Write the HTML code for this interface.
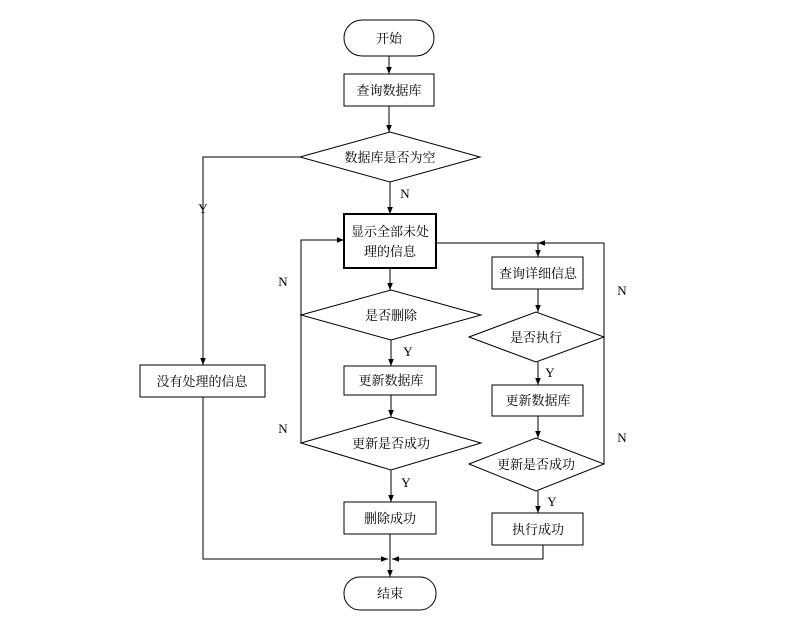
<!DOCTYPE html>
<html><head><meta charset="utf-8"><style>
html,body{margin:0;padding:0;background:#fff;}
svg text{font-family:"Liberation Serif","Noto Serif CJK SC","Noto Sans CJK SC",serif;font-size:13px;fill:#000;}
</style></head><body>
<svg width="798" height="625" viewBox="0 0 798 625" xmlns="http://www.w3.org/2000/svg">
<defs><marker id="a" viewBox="0 0 10 10" refX="10" refY="5" markerWidth="7" markerHeight="7" orient="auto"><path d="M0,1 L10,5 L0,9 z" fill="#000"/></marker></defs>
<g fill="none" stroke="#000" stroke-width="1">
<rect x="344" y="20" width="90" height="36" rx="18"/>
<rect x="344" y="74" width="90" height="32"/>
<polygon points="300,157 390,132 480,157 390,182"/>
<rect x="344" y="214" width="92" height="54" stroke-width="2"/>
<polygon points="301,315 391,290 481,315 391,340"/>
<rect x="344" y="366" width="92" height="29"/>
<polygon points="301,443 391,417 481,443 391,470"/>
<rect x="344" y="502" width="92" height="32"/>
<rect x="344" y="577" width="92" height="33" rx="16"/>
<rect x="492" y="257" width="91" height="32"/>
<polygon points="469,337 536,312 604,337 536,362"/>
<rect x="492" y="385" width="91" height="31"/>
<polygon points="469,464 536,438 604,464 536,491"/>
<rect x="492" y="513" width="91" height="32"/>
<rect x="140" y="365" width="125" height="32"/>
<line x1="389" y1="56" x2="389" y2="74" marker-end="url(#a)"/>
<line x1="389" y1="106" x2="389" y2="132" marker-end="url(#a)"/>
<line x1="390" y1="182" x2="390" y2="214" marker-end="url(#a)"/>
<line x1="390" y1="268" x2="390" y2="290" marker-end="url(#a)"/>
<line x1="391" y1="340" x2="391" y2="366" marker-end="url(#a)"/>
<line x1="391" y1="395" x2="391" y2="417" marker-end="url(#a)"/>
<line x1="391" y1="470" x2="391" y2="502" marker-end="url(#a)"/>
<line x1="390" y1="534" x2="390" y2="577" marker-end="url(#a)"/>
<polyline points="300,157 203,157 203,365" marker-end="url(#a)"/>
<polyline points="203,397 203,559 388,559" marker-end="url(#a)"/>
<polyline points="543,545 543,559 392,559" marker-end="url(#a)"/>
<polyline points="301,443 301,240 344,240" marker-end="url(#a)"/>
<polyline points="436,243 538,243 538,257" marker-end="url(#a)"/>
<polyline points="604,464 604,243 538,243" marker-end="url(#a)"/>
<line x1="538" y1="289" x2="538" y2="312" marker-end="url(#a)"/>
<line x1="538" y1="362" x2="538" y2="385" marker-end="url(#a)"/>
<line x1="538" y1="416" x2="538" y2="438" marker-end="url(#a)"/>
<line x1="538" y1="491" x2="538" y2="513" marker-end="url(#a)"/>
</g>
<g text-anchor="middle">
<text x="389" y="43">开始</text>
<text x="389" y="95">查询数据库</text>
<text x="390" y="162">数据库是否为空</text>
<text x="390" y="236">显示全部未处</text>
<text x="390" y="256">理的信息</text>
<text x="391" y="320">是否删除</text>
<text x="391" y="385">更新数据库</text>
<text x="391" y="448">更新是否成功</text>
<text x="390" y="523">删除成功</text>
<text x="390" y="598">结束</text>
<text x="538" y="278">查询详细信息</text>
<text x="536" y="342">是否执行</text>
<text x="538" y="405">更新数据库</text>
<text x="536" y="469">更新是否成功</text>
<text x="538" y="534">执行成功</text>
<text x="202" y="386">没有处理的信息</text>
<text x="405" y="198">N</text>
<text x="203" y="213">Y</text>
<text x="283" y="286">N</text>
<text x="283" y="433">N</text>
<text x="408" y="356">Y</text>
<text x="406" y="487">Y</text>
<text x="622" y="295">N</text>
<text x="622" y="442">N</text>
<text x="550" y="377">Y</text>
<text x="552" y="506">Y</text>
</g>
</svg>
</body></html>
